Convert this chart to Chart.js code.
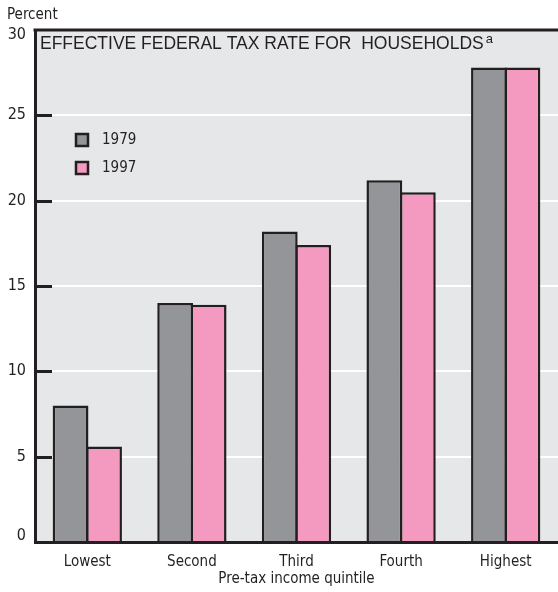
<!DOCTYPE html>
<html>
<head>
<meta charset="utf-8">
<script src="https://cdn.jsdelivr.net/npm/chart.js@4/dist/chart.umd.min.js"></script>
<style>
html,body{margin:0;padding:0;background:#fff;}
canvas{display:block;}
</style>
</head>
<body>
<canvas id="c" width="558" height="592"></canvas>
<script>
const categories = ['Lowest', 'Second', 'Third', 'Fourth', 'Highest'];
const rate1979 = [8.0, 14.0, 18.2, 21.2, 27.8];
const rate1997 = [5.6, 13.9, 17.4, 20.5, 27.8];
const yTicks = [0, 5, 10, 15, 20, 25, 30];
const seriesLabels = ['1979', '1997'];

const INK = '#231f20';
const GRAY = '#939598';
const PINK = '#f49ac1';
const BG = '#e6e7e8';
const NARROW = "'Liberation Sans Narrow', 'DejaVu Sans Condensed', 'Roboto', sans-serif";
const SANS = "'Liberation Sans', Arial, sans-serif";

const decoPlugin = {
  id: 'deco',
  beforeDraw(chart) {
    const {ctx, chartArea: a} = chart;
    ctx.save();
    ctx.fillStyle = BG;
    ctx.fillRect(a.left, a.top, a.right - a.left, a.bottom - a.top);
    ctx.restore();
    // nudge end labels inward, as in the original
    try {
      const items = chart.scales.y.getLabelItems(a);
      if (items && items.length) {
        items.forEach(it => {
          const lbl = String(it.label);
          if (lbl === '0') it.options.translation[1] -= 6;
          if (lbl === '30') it.options.translation[1] += 5;
        });
      }
    } catch (e) {}
  },
  beforeDatasetsDraw(chart) {
    const {ctx, chartArea: a, scales} = chart;
    ctx.save();
    ctx.strokeStyle = INK;
    ctx.lineWidth = 3;
    yTicks.forEach(v => {
      if (v === 0 || v === 30) return;
      const y = Math.round(scales.y.getPixelForValue(v)) + 0.5;
      ctx.beginPath();
      ctx.moveTo(a.left, y);
      ctx.lineTo(a.left + 17, y);
      ctx.stroke();
    });
    ctx.restore();
  },
  afterDraw(chart) {
    const {ctx, chartArea: a, data} = chart;
    ctx.save();
    // top border
    ctx.strokeStyle = INK;
    ctx.lineWidth = 3;
    ctx.beginPath();
    ctx.moveTo(a.left - 1.5, a.top);
    ctx.lineTo(a.right, a.top);
    ctx.stroke();
    // y axis unit
    ctx.fillStyle = INK;
    ctx.font = '15px ' + NARROW;
    ctx.textAlign = 'left';
    ctx.textBaseline = 'middle';
    ctx.fillText('Percent', 7, 15);
    // title
    ctx.font = '17.5px ' + SANS;
    ctx.textBaseline = 'alphabetic';
    const t = 'EFFECTIVE FEDERAL TAX RATE FOR  HOUSEHOLDS';
    ctx.fillText(t, 40, 49);
    const w = ctx.measureText(t).width;
    ctx.font = '13px ' + SANS;
    ctx.fillText('a', 40 + w + 2, 43);
    // legend
    data.datasets.forEach((ds, i) => {
      const y = 133 + i * 28;
      ctx.fillStyle = ds.backgroundColor;
      ctx.fillRect(76, y + 1, 12, 12);
      ctx.strokeStyle = INK;
      ctx.lineWidth = 2.5;
      ctx.strokeRect(76, y + 1, 12, 12);
      ctx.fillStyle = INK;
      ctx.font = '15px ' + NARROW;
      ctx.textBaseline = 'middle';
      ctx.fillText(ds.label, 102, y + 7);
    });
    ctx.restore();
  }
};

new Chart(document.getElementById('c'), {
  type: 'bar',
  data: {
    labels: categories,
    datasets: [
      {label: seriesLabels[0], data: rate1979, backgroundColor: GRAY, borderColor: INK, borderWidth: 2.5},
      {label: seriesLabels[1], data: rate1997, backgroundColor: PINK, borderColor: INK, borderWidth: 2.5}
    ]
  },
  options: {
    responsive: false,
    animation: false,
    devicePixelRatio: 1,
    layout: {padding: {top: 30, left: 0, right: 0, bottom: 0}},
    datasets: {bar: {barPercentage: 1.07, categoryPercentage: 0.64}},
    plugins: {legend: {display: false}, tooltip: {enabled: false}},
    scales: {
      x: {
        grid: {display: false},
        border: {display: true, color: INK, width: 3},
        ticks: {color: INK, font: {family: NARROW, size: 15}, padding: 3},
        title: {display: true, text: 'Pre-tax income quintile', color: INK, font: {family: NARROW, size: 15}, padding: {top: 0, bottom: 4}},
        afterFit(scale) { scale.height = 50; }
      },
      y: {
        min: 0, max: 30,
        afterBuildTicks(scale) { scale.ticks = yTicks.map(v => ({value: v})); },
        grid: {
          color: ctx => (ctx.tick && (ctx.tick.value === 0 || ctx.tick.value === 30)) ? 'rgba(0,0,0,0)' : '#ffffff',
          lineWidth: 2,
          drawTicks: false
        },
        border: {display: true, color: INK, width: 3},
        ticks: {color: INK, font: {family: NARROW, size: 16}, padding: 9},
        afterFit(scale) { scale.width = 35; }
      }
    }
  },
  plugins: [decoPlugin]
});
</script>
</body>
</html>
